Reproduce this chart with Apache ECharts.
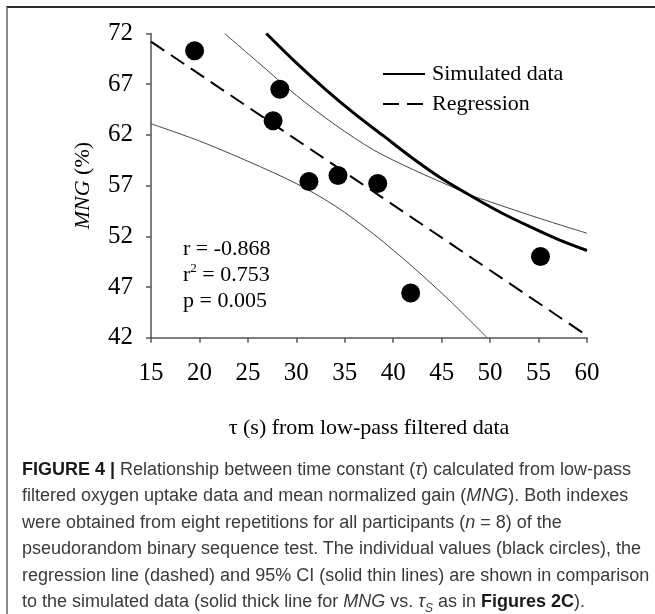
<!DOCTYPE html>
<html>
<head>
<meta charset="utf-8">
<script src="https://cdn.jsdelivr.net/npm/echarts@6/dist/echarts.min.js"></script>
<style>
  html, body { margin: 0; padding: 0; background: #fff; }
  #wrap { position: relative; width: 655px; height: 614px; overflow: hidden; }
  #frame { position: absolute; left: 6px; top: 6px; right: -10px; bottom: -10px;
           border-top: 2px solid #2b2b2b; border-left: 2px solid #8a8a8a; }
  #chart { position: absolute; left: 0; top: 0; width: 655px; height: 614px; }
  #caption { position: absolute; left: 22px; top: 456px; width: 630px;
             font-family: "Liberation Sans", Arial, sans-serif; font-size: 18px;
             line-height: 26.4px; color: #3a3a3a; white-space: nowrap; }
  #caption b { color: #1a1a1a; }
</style>
</head>
<body>
<div id="wrap">
  <div id="frame"></div>
  <div id="chart"></div>
  <div id="caption">
    <b>FIGURE 4 |</b> Relationship between time constant (<i>τ</i>) calculated from low-pass<br>
    filtered oxygen uptake data and mean normalized gain (<i>MNG</i>). Both indexes<br>
    were obtained from eight repetitions for all participants (<i>n</i> = 8) of the<br>
    pseudorandom binary sequence test. The individual values (black circles), the<br>
    regression line (dashed) and 95% CI (solid thin lines) are shown in comparison<br>
    to the simulated data (solid thick line for <i>MNG</i> vs. <i>τ<sub style="font-size:12px">S</sub></i> as in <b>Figures 2C</b>).
  </div>
</div>
<script>
// individual values
const tau = [19.5, 28.3, 27.6, 31.3, 34.3, 38.4, 41.8, 55.2];
const mng = [70.3, 66.5, 63.4, 57.4, 58.0, 57.2, 46.4, 50.0];
// simulated data (thick)
const simX = [26.9, 30, 33, 36, 39, 42, 45, 48, 51, 54, 57, 60];
const simY = [72, 69.1, 66.5, 64.1, 61.9, 59.7, 57.7, 56.0, 54.4, 53.0, 51.7, 50.6];
// regression
const regX = [15, 60];
const regY = [71.2, 42.2];
// 95% CI
const upX = [22.6, 26, 30, 34, 38, 42, 46, 48, 50, 55, 60];
const upY = [72, 69.2, 65.9, 63.0, 60.5, 58.6, 56.9, 56.05, 55.4, 53.8, 52.3];
const loX = [15, 20, 25, 30, 34, 38, 42, 46, 49.7];
const loY = [63.1, 61.4, 59.4, 57.2, 55.0, 52.2, 49.0, 45.5, 42.0];
const stats = ['r = -0.868', 'r{sup|2} = 0.753', 'p = 0.005'];

const serif = '"Liberation Serif", "Times New Roman", serif';
const pairs = (xs, ys) => xs.map((x, i) => [x, ys[i]]);

let myChart = echarts.init(document.getElementById('chart'));
let option = {
    animation: false,
    textStyle: { fontFamily: serif, color: '#000' },
    grid: { left: 151, right: 68, top: 33.5, bottom: 276.3, outerBoundsMode: 'none' },
    legend: {
        data: ['Simulated data', 'Regression'],
        orient: 'vertical',
        left: 377,
        top: 58,
        itemWidth: 42,
        itemHeight: 14,
        itemGap: 8,
        itemStyle: { opacity: 0 },
        textStyle: { fontFamily: serif, fontSize: 22, color: '#000', padding: [0, 0, 0, 2] }
    },
    xAxis: {
        type: 'value',
        min: 15, max: 60, interval: 5,
        name: 'τ (s) from low-pass filtered data',
        nameLocation: 'middle',
        nameGap: 80,
        nameTextStyle: { fontFamily: serif, fontSize: 22, color: '#000' },
        axisLine: { lineStyle: { color: '#555', width: 1.5 } },
        axisTick: { length: 5, lineStyle: { color: '#555', width: 1.5 } },
        axisLabel: { fontFamily: serif, fontSize: 25, color: '#000', margin: 23 },
        splitLine: { show: false }
    },
    yAxis: {
        type: 'value',
        min: 42, max: 72, interval: 5,
        name: '{i|MNG} (%)',
        nameLocation: 'middle',
        nameGap: 57,
        nameTextStyle: { fontFamily: serif, fontSize: 22, color: '#000',
            rich: { i: { fontFamily: serif, fontSize: 22, fontStyle: 'italic', color: '#000' } } },
        axisLine: { show: true, lineStyle: { color: '#555', width: 1.5 } },
        axisTick: { show: true, length: 5, lineStyle: { color: '#555', width: 1.5 } },
        axisLabel: { fontFamily: serif, fontSize: 25, color: '#000', margin: 18 },
        splitLine: { show: false }
    },
    graphic: [{
        type: 'text',
        left: 183,
        top: 236,
        style: {
            text: stats.join('\n'),
            font: '22px ' + serif,
            fill: '#000',
            lineHeight: 26,
            rich: { sup: { fontSize: 13, fontFamily: serif, verticalAlign: 'top', padding: [0, 0, 10, 0] } }
        }
    }],
    series: [
        {
            name: 'upper CI', type: 'line', data: pairs(upX, upY),
            smooth: 0.3, showSymbol: false, symbol: 'none',
            itemStyle: { color: '#444' },
            lineStyle: { color: '#444', width: 1 }, z: 2
        },
        {
            name: 'lower CI', type: 'line', data: pairs(loX, loY),
            smooth: 0.3, showSymbol: false, symbol: 'none',
            itemStyle: { color: '#444' },
            lineStyle: { color: '#444', width: 1 }, z: 2
        },
        {
            name: 'Regression', type: 'line', data: pairs(regX, regY),
            showSymbol: false, symbol: 'none',
            itemStyle: { color: '#000' },
            lineStyle: { color: '#000', width: 2, type: [16, 8] }, z: 3
        },
        {
            name: 'Simulated data', type: 'line', data: pairs(simX, simY),
            smooth: 0.3, showSymbol: false, symbol: 'none',
            itemStyle: { color: '#000' },
            lineStyle: { color: '#000', width: 3 }, z: 3
        },
        {
            name: 'values', type: 'scatter', data: pairs(tau, mng),
            symbolSize: 19, itemStyle: { color: '#000', opacity: 1 }, z: 5
        }
    ]
};
myChart.setOption(option);
</script>
</body>
</html>
